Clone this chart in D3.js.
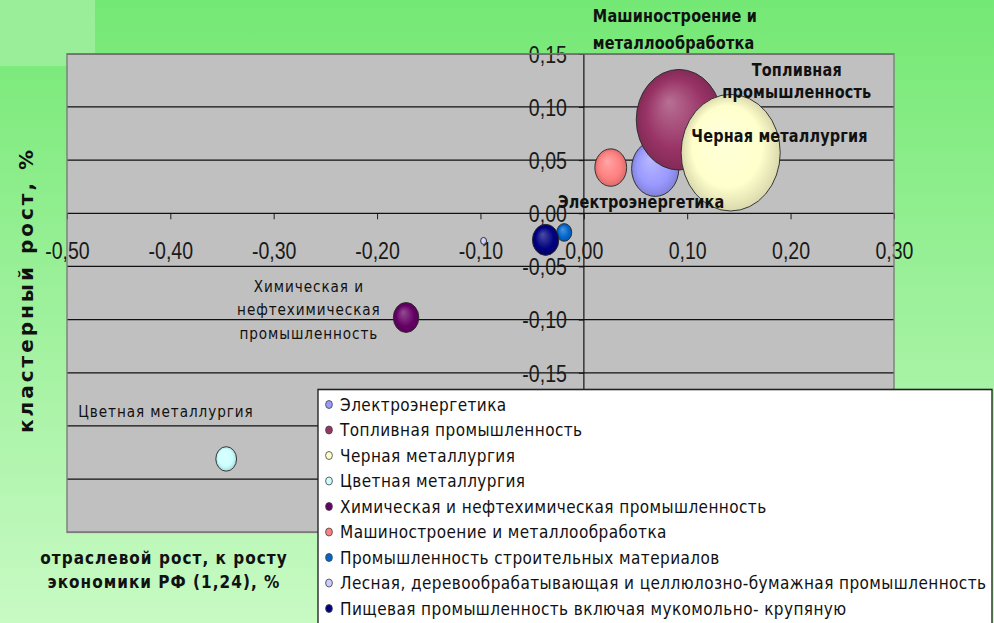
<!DOCTYPE html>
<html>
<head>
<meta charset="utf-8">
<script src="https://cdn.jsdelivr.net/npm/d3@7"></script>
<style>
html, body { margin:0; padding:0; overflow:hidden; background:#fff; }
#board svg { display:block; }
</style>
</head>
<body>
<div id="board"></div>
<script>

// отрасли (в порядке серий)
var sectors = ['Электроэнергетика','Топливная промышленность','Черная металлургия','Цветная металлургия',
    'Химическая и нефтехимическая промышленность','Машиностроение и металлообработка',
    'Промышленность строительных материалов','Лесная, деревообрабатывающая и целлюлозно-бумажная промышленность',
    'Пищевая промышленность включая мукомольно- крупяную'];
// отраслевой рост (ось X)
var growthX = [0.069, 0.092, 0.142, -0.346, -0.172, 0.026, -0.019, -0.097, -0.037];
// кластерный рост (ось Y)
var growthY = [0.042, 0.088, 0.057, -0.231, -0.098, 0.043, -0.018, -0.026, -0.025];
// размер пузырька
var bubbleSize = [2.27, 7.44, 10.0, 0.44, 0.66, 1.03, 0.23, 0.036, 0.71];
var colors = ['#9999ff','#993366','#ffffcc','#ccffff','#660066','#ff8080','#0066cc','#ccccff','#000080'];

var xTicks = [-0.5,-0.4,-0.3,-0.2,-0.1,0,0.1,0.2,0.3];
var yTicks = [0.15,0.10,0.05,0,-0.05,-0.10,-0.15,-0.20,-0.25,-0.30];
// подписи ниже -0,15 закрыты легендой
var yLabelTicks = [0.15,0.10,0.05,0,-0.05,-0.10,-0.15];

// подписи у пузырьков (якорь в единицах осей)
var notes = [
    {text:['Машиностроение и','металлообработка'], x:0.0087, y:0.185, step:26.6, anchor:'start', bold:true},
    {text:['Топливная','промышленность'], x:0.206, y:0.135, step:22.7, anchor:'middle', bold:true},
    {text:['Черная металлургия'], x:0.104, y:0.073, step:0, anchor:'start', bold:true},
    {text:['Электроэнергетика'], x:-0.025, y:0.0107, step:0, anchor:'start', bold:true},
    {text:['Химическая и','нефтехимическая','промышленность'], x:-0.266, y:-0.0686, step:23.3, anchor:'middle', bold:false},
    {text:['Цветная металлургия'], x:-0.489, y:-0.186, step:0, anchor:'start', bold:false}
];

var W = 994, H = 623;
var sx = 0.85; // картинка слегка сжата по горизонтали

var svg = d3.select('#board').append('svg')
    .attr('width', W)
    .attr('height', H);

var defs = svg.append('defs');
var bg = defs.append('linearGradient')
    .attr('id','bg').attr('x1',0).attr('y1',0).attr('x2',0).attr('y2',1);
bg.append('stop').attr('offset','0%').attr('stop-color','#74e874');
bg.append('stop').attr('offset','100%').attr('stop-color','#c8fac4');

svg.append('rect').attr('width',W).attr('height',H).attr('fill','url(#bg)');
svg.append('rect').attr('width',95).attr('height',66).attr('fill','#9aee9a');

colors.forEach(function(c,i){
    var gr = defs.append('radialGradient')
        .attr('id','bub'+i)
        .attr('cx','50%').attr('cy','50%').attr('r','50%')
        .attr('fx','38%').attr('fy','32%');
    gr.append('stop').attr('offset','0%').attr('stop-color', d3.interpolateRgb(c,'#fff')(0.3));
    gr.append('stop').attr('offset','70%').attr('stop-color', c);
    gr.append('stop').attr('offset','100%').attr('stop-color', d3.interpolateRgb(c,'#000')(0.15));
});

var g = svg.append('g').attr('transform','scale('+sx+',1)');

var x = d3.scaleLinear().domain([-0.5,0.3]).range([67/sx, 894/sx]);
var y = d3.scaleLinear().domain([-0.3,0.15]).range([532.3, 53.8]);
var r = d3.scaleSqrt().domain([0,10]).range([0,58.3]);

var loc = d3.formatLocale({decimal:',', thousands:' ', grouping:[3], currency:['',''], minus:'-'});
var fmt = loc.format('.2f');

// область построения
g.append('rect')
    .attr('x', x(-0.5)).attr('y', y(0.15))
    .attr('width', x(0.3)-x(-0.5)).attr('height', y(-0.3)-y(0.15))
    .attr('fill','#c0c0c0');

g.selectAll('line.grid')
    .data(yTicks)
    .enter().append('line')
    .attr('class','grid')
    .attr('x1', x(-0.5)).attr('x2', x(0.3))
    .attr('y1', function(d){ return y(d); })
    .attr('y2', function(d){ return y(d); })
    .style('stroke','#111')
    .style('stroke-width',1.2);

g.append('line')
    .attr('x1', x(0)).attr('x2', x(0))
    .attr('y1', y(0.15)).attr('y2', y(-0.3))
    .style('stroke','#111')
    .style('stroke-width',1.4);

// ось X
var xAxis = g.append('g')
    .attr('transform','translate(0,'+y(0)+')')
    .call(d3.axisBottom(x).tickValues(xTicks).tickFormat(fmt).tickSize(6));
xAxis.select('.domain').remove();
xAxis.attr('font-family','"Liberation Sans", Arial, sans-serif').attr('font-size',23);
xAxis.selectAll('line').style('stroke','#111');
xAxis.selectAll('text').attr('y',38).attr('dy','0.35em').style('fill','#1a1a1a');

// пузырьки
g.selectAll('circle.bubble')
    .data(sectors)
    .enter().append('circle')
    .attr('class','bubble')
    .attr('cx', function(d,i){ return x(growthX[i]); })
    .attr('cy', function(d,i){ return y(growthY[i]); })
    .attr('r', function(d,i){ return r(bubbleSize[i]); })
    .style('fill', function(d,i){ return 'url(#bub'+i+')'; })
    .style('stroke','#2a2a2a')
    .style('stroke-width',1);

// ось Y
var yAxis = g.append('g')
    .attr('transform','translate('+x(0)+',0)')
    .call(d3.axisLeft(y).tickValues(yLabelTicks).tickFormat(fmt).tickSize(6).tickPadding(14));
yAxis.select('.domain').remove();
yAxis.attr('font-family','"Liberation Sans", Arial, sans-serif').attr('font-size',23);
yAxis.selectAll('line').style('stroke','#111');
yAxis.selectAll('text').attr('dy','0.36em').style('fill','#1a1a1a');

g.append('rect')
    .attr('x', x(-0.5)).attr('y', y(0.15))
    .attr('width', x(0.3)-x(-0.5)).attr('height', y(-0.3)-y(0.15))
    .attr('fill','none')
    .style('stroke','#7a7a7a')
    .style('stroke-width',1.6);

// подписи
notes.forEach(function(n){
    n.text.forEach(function(t,k){
        g.append('text')
            .attr('x', x(n.x))
            .attr('y', y(n.y) + k*n.step)
            .attr('dominant-baseline','central')
            .attr('text-anchor', n.anchor)
            .style('font-family','"DejaVu Sans", Verdana, sans-serif')
            .style('font-size', n.bold ? '17px' : '16px')
            .style('font-weight', n.bold ? 'bold' : 'normal')
            .style('letter-spacing', n.bold ? '0.2px' : '1.1px')
            .style('fill','#111')
            .text(t);
    });
});

// легенда
var lg = g.append('g');
lg.append('rect')
    .attr('x', 318/sx).attr('y', 389.5)
    .attr('width', (992-318)/sx).attr('height', 260)
    .attr('fill','#fff')
    .style('stroke','#222')
    .style('stroke-width',1.6);

var rows = lg.selectAll('g.row')
    .data(sectors)
    .enter().append('g')
    .attr('class','row')
    .attr('transform', function(d,i){ return 'translate('+(329/sx)+','+(404.5+i*25.5)+')'; });
rows.append('circle')
    .attr('r',4)
    .style('fill', function(d,i){ return colors[i]; })
    .style('stroke','#444')
    .style('stroke-width',0.9);
rows.append('text')
    .attr('x', 13)
    .attr('dominant-baseline','central')
    .style('font-family','"DejaVu Sans", Verdana, sans-serif')
    .style('font-size','18px')
    .style('letter-spacing','0.5px')
    .style('fill','#111')
    .text(function(d){ return d; });

// заголовок оси X
['отраслевой рост, к росту','экономики РФ (1,24), %'].forEach(function(t,k){
    g.append('text')
        .attr('x', 164/sx)
        .attr('y', 558 + k*24)
        .attr('dominant-baseline','central')
        .attr('text-anchor','middle')
        .style('font-family','"DejaVu Sans", Verdana, sans-serif')
        .style('font-size','18px')
        .style('font-weight','bold')
        .style('letter-spacing','1.2px')
        .style('fill','#111')
        .text(t);
});

// заголовок оси Y
svg.append('text')
    .attr('transform','translate(33,290) rotate(-90)')
    .attr('text-anchor','middle')
    .style('font-family','"DejaVu Sans", Verdana, sans-serif')
    .style('font-size','20px')
    .style('font-weight','bold')
    .style('letter-spacing','3px')
    .style('fill','#111')
    .text('кластерный рост, %');

</script>
</body>
</html>
